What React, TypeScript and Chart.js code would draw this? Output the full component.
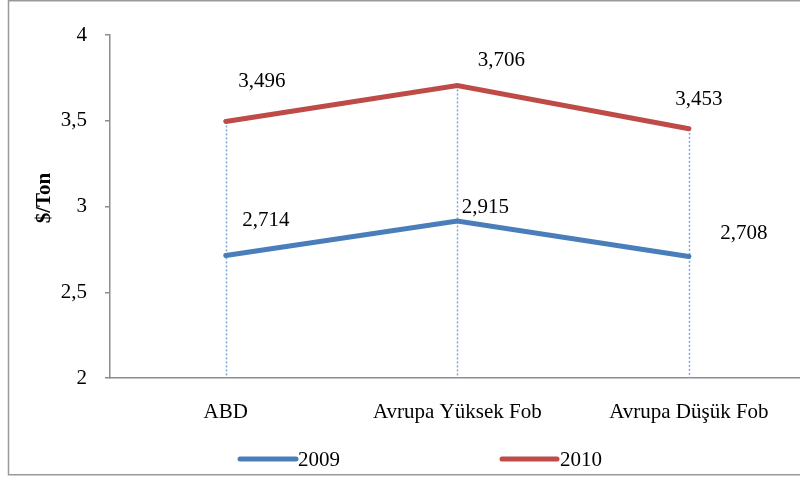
import React, { useEffect, useRef } from "react";
import { Chart, registerables } from "chart.js";
Chart.register(...registerables);

const categories = ["ABD", "Avrupa Yüksek Fob", "Avrupa Düşük Fob"];
const seriesNames = ["2009", "2010"];
const values2009 = [2.714, 2.915, 2.708];
const values2010 = [3.496, 3.706, 3.453];
const yTicks = [2, 2.5, 3, 3.5, 4];
const yTitle = "$/Ton";

const COLORS = ["#4A7EBB", "#BE4B48"];
const FONT = "'Liberation Serif', 'Times New Roman', serif";
// label offsets relative to point (layout only)
const labelOffsets = [
  [[40, -35], [28, -14], [55, -23]],
  [[36, -40], [44, -25], [10, -29]],
];
const legendPos = [
  { x0: 240, x1: 296, tx: 298 },
  { x0: 502, x1: 557, tx: 560 },
];
const LEGEND_Y = 459;

const fmt = (v: number) => v.toFixed(3).replace(".", ",");
const fmtTick = (v: number) => String(v).replace(".", ",");

export default function App() {
  const ref = useRef<HTMLCanvasElement>(null);
  useEffect(() => {
    const canvas = ref.current!;
    const custom = {
      id: "custom",
      beforeDraw(chart: any) {
        const ctx = chart.ctx;
        ctx.save();
        ctx.fillStyle = "#fff";
        ctx.fillRect(0, 0, chart.width, chart.height);
        ctx.strokeStyle = "#9a9a9a";
        ctx.lineWidth = 1.5;
        ctx.strokeRect(8.5, 0.75, chart.width + 10, 474);
        ctx.restore();
      },
      beforeDatasetsDraw(chart: any) {
        const ctx = chart.ctx;
        const xs = chart.scales.x;
        const ys = chart.scales.y;
        ctx.save();
        ctx.strokeStyle = "#7AA6E0";
        ctx.lineWidth = 1.5;
        ctx.setLineDash([2, 2]);
        values2010.forEach((v, i) => {
          const px = Math.round(xs.getPixelForValue(i)) + 0.5;
          ctx.beginPath();
          ctx.moveTo(px, ys.getPixelForValue(v));
          ctx.lineTo(px, ys.getPixelForValue(2));
          ctx.stroke();
        });
        ctx.restore();
      },
      afterDatasetsDraw(chart: any) {
        const ctx = chart.ctx;
        const xs = chart.scales.x;
        const ys = chart.scales.y;
        ctx.save();
        ctx.font = `21px ${FONT}`;
        ctx.fillStyle = "#000";
        ctx.textAlign = "center";
        ctx.textBaseline = "middle";
        [values2009, values2010].forEach((arr, s) => {
          arr.forEach((v, i) => {
            const px = xs.getPixelForValue(i);
            const py = ys.getPixelForValue(v);
            ctx.fillText(fmt(v), px + labelOffsets[s][i][0], py + labelOffsets[s][i][1]);
          });
        });
        // legend
        ctx.textAlign = "left";
        ctx.lineCap = "round";
        seriesNames.forEach((name, s) => {
          const p = legendPos[s];
          ctx.strokeStyle = COLORS[s];
          ctx.lineWidth = 5;
          ctx.beginPath();
          ctx.moveTo(p.x0, LEGEND_Y);
          ctx.lineTo(p.x1, LEGEND_Y);
          ctx.stroke();
          ctx.fillText(name, p.tx, LEGEND_Y + 1);
        });
        // y axis title
        ctx.save();
        ctx.translate(45, 198);
        ctx.rotate(-Math.PI / 2);
        ctx.textAlign = "center";
        ctx.font = `bold 21px ${FONT}`;
        ctx.fillText(yTitle, 0, 0);
        ctx.restore();
        ctx.restore();
      },
    };
    const chart = new Chart(canvas, {
      type: "line",
      data: {
        datasets: [values2009, values2010].map((arr, s) => ({
          label: seriesNames[s],
          data: arr.map((v, i) => ({ x: i, y: v })),
          borderColor: COLORS[s],
          backgroundColor: COLORS[s],
          borderWidth: 5,
          pointRadius: 0,
          borderCapStyle: "round",
          borderJoinStyle: "miter",
          tension: 0,
          fill: false,
        })),
      },
      options: {
        responsive: false,
        animation: false,
        layout: { padding: { left: 0, right: 0, top: 35, bottom: 0 } },
        plugins: { legend: { display: false }, tooltip: { enabled: false } },
        scales: {
          x: {
            type: "linear",
            min: -0.5,
            max: 2.48,
            afterBuildTicks: (scale: any) => {
              scale.ticks = categories.map((_, i) => ({ value: i }));
            },
            afterFit: (scale: any) => {
              scale.height = 101;
            },
            grid: { display: false, drawTicks: false },
            border: { display: true, color: "#8c8c8c", width: 1.5 },
            ticks: {
              color: "#000",
              padding: 22,
              maxRotation: 0,
              autoSkip: false,
              font: { family: FONT, size: 21 },
              callback: (v: any) => categories[v as number] ?? "",
            },
          },
          y: {
            min: 2,
            max: 4,
            afterBuildTicks: (scale: any) => {
              scale.ticks = yTicks.map((v) => ({ value: v }));
            },
            afterFit: (scale: any) => {
              scale.width = 110;
            },
            grid: {
              drawOnChartArea: false,
              drawTicks: true,
              tickLength: 5,
              color: "#8c8c8c",
              lineWidth: 1.5,
            },
            border: { display: true, color: "#8c8c8c", width: 1.5 },
            ticks: {
              color: "#000",
              padding: 18,
              font: { family: FONT, size: 21 },
              callback: (v: any) => fmtTick(v as number),
            },
          },
        },
      },
      plugins: [custom],
    } as any);
    return () => chart.destroy();
  }, []);
  return (
    <div style={{ position: "fixed", left: 0, top: 0, width: 800, height: 479 }}>
      <canvas ref={ref} width={800} height={479} style={{ display: "block" }} />
    </div>
  );
}
